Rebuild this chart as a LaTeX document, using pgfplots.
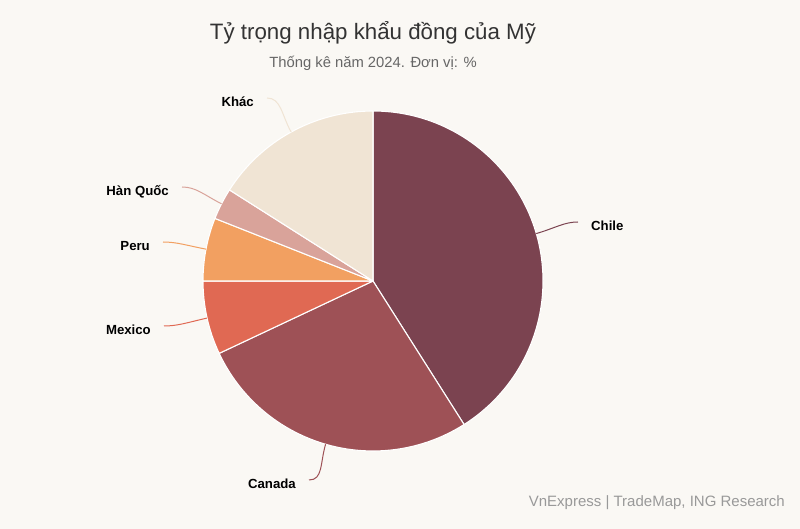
\documentclass[border=0pt]{standalone}
\usepackage{fontspec}
\setmainfont{Liberation Sans}
\usepackage{pgfplots}
\usepackage{pgfplotstable}
\pgfplotsset{compat=1.18}

\definecolor{bg}{HTML}{FAF8F4}
\definecolor{cChile}{HTML}{7B4350}
\definecolor{cCanada}{HTML}{9E5156}
\definecolor{cMexico}{HTML}{E06953}
\definecolor{cPeru}{HTML}{F2A061}
\definecolor{cHQ}{HTML}{D9A39A}
\definecolor{cKhac}{HTML}{F0E4D4}

\newcommand\labelfont{\fontsize{13.2}{15}\selectfont\bfseries}

% share in %, colour, end of the leader line (pixel coords, y down)
\pgfplotstableread[col sep=comma]{
name,value,col,ex,ey
Chile,41,cChile,578,222
Canada,27,cCanada,309,480
Mexico,7,cMexico,164,326
Peru,6,cPeru,163,242
Hàn Quốc,3,cHQ,182,187
Khác,16,cKhac,267,98
}\piedata

\pgfplotstablegetrowsof{\piedata}
\pgfmathtruncatemacro\nlast{\pgfplotsretval-1}

\begin{document}
\begin{tikzpicture}
\begin{axis}[
    hide axis,
    scale only axis,
    width=800pt, height=529pt,
    xmin=0, xmax=800, ymin=0, ymax=529,
    clip=false,
]
\fill[bg] (axis cs:0,0) rectangle (axis cs:800,529);

% slices
\def\cum{0}
\pgfplotsforeachungrouped \i in {0,...,\nlast}{%
    \pgfplotstablegetelem{\i}{value}\of\piedata \let\sliceVal\pgfplotsretval
    \pgfplotstablegetelem{\i}{col}\of\piedata \let\sliceCol\pgfplotsretval
    \pgfmathsetmacro\aS{90-3.6*\cum}
    \pgfmathsetmacro\aE{90-3.6*(\cum+\sliceVal)}
    \pgfmathsetmacro\cum{\cum+\sliceVal}
    \edef\temp{\noexpand\fill[\sliceCol, draw=white, line width=1.1pt, line join=round]
        (axis cs:373,248) -- ++(\aS:170pt)
        arc[start angle=\aS, end angle=\aE, radius=170pt] -- cycle;}
    \temp
}

% leader lines and labels
\def\cum{0}
\pgfplotsforeachungrouped \i in {0,...,\nlast}{%
    \pgfplotstablegetelem{\i}{name}\of\piedata \let\sliceName\pgfplotsretval
    \pgfplotstablegetelem{\i}{value}\of\piedata \let\sliceVal\pgfplotsretval
    \pgfplotstablegetelem{\i}{col}\of\piedata \let\sliceCol\pgfplotsretval
    \pgfplotstablegetelem{\i}{ex}\of\piedata \let\ex\pgfplotsretval
    \pgfplotstablegetelem{\i}{ey}\of\piedata \let\eyraw\pgfplotsretval
    \pgfmathsetmacro\aM{90-3.6*(\cum+\sliceVal/2)}
    \pgfmathsetmacro\cum{\cum+\sliceVal}
    \pgfmathsetmacro\px{373+170*cos(\aM)}
    \pgfmathsetmacro\py{248+170*sin(\aM)}
    \pgfmathsetmacro\cx{373+190*cos(\aM)}
    \pgfmathsetmacro\cy{248+190*sin(\aM)}
    \pgfmathsetmacro\sgn{cos(\aM)>0 ? 1 : -1}
    \pgfmathsetmacro\ey{529-\eyraw}
    \pgfmathsetmacro\dx{\ex-\sgn*14}
    \pgfmathsetmacro\lx{\ex+\sgn*13}
    \pgfmathsetmacro\ly{\ey-8.5}
    \ifdim\sgn pt>0pt \def\anc{base west}\else\def\anc{base east}\fi
    \edef\temp{\noexpand\draw[\sliceCol, line width=1pt]
        (axis cs:\px,\py) .. controls (axis cs:\cx,\cy) and (axis cs:\dx,\ey) .. (axis cs:\ex,\ey);
        \noexpand\node[anchor=\anc, inner sep=0pt, font=\noexpand\labelfont, text=black]
        at (axis cs:\lx,\ly) {\sliceName};}
    \temp
}

\node[anchor=base, inner sep=0pt, text=black!80, font=\fontsize{22.3}{26}\selectfont]
    at (axis cs:373,489) {Tỷ trọng nhập khẩu đồng của Mỹ};
\node[anchor=base, inner sep=0pt, text=black!60, font=\fontsize{14.8}{18}\selectfont]
    at (axis cs:373,461) {Thống kê năm 2024. Đơn vị: \%};
\node[anchor=base east, inner sep=0pt, text=black!40, font=\fontsize{15}{18}\selectfont]
    at (axis cs:785,22) {VnExpress | TradeMap, ING Research};
\end{axis}
\end{tikzpicture}
\end{document}
